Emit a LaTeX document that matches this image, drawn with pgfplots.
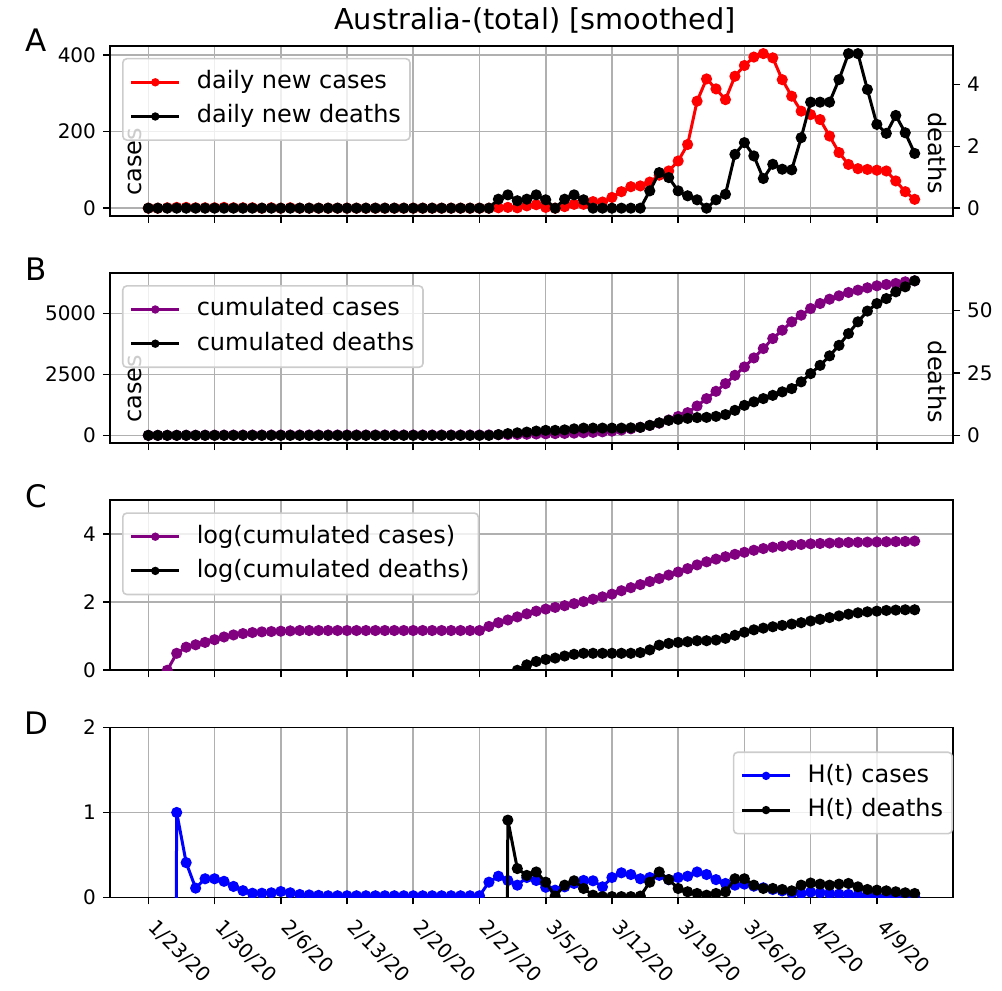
\documentclass[border=0pt]{standalone}
\usepackage{fontspec}
\setmainfont{DejaVu Sans}
\usepackage{pgfplots}
\usepackage{pgfplotstable}
\pgfplotsset{compat=1.18}

\definecolor{mplgrid}{RGB}{176,176,176}
\definecolor{mplpurple}{RGB}{128,0,128}
\definecolor{legframe}{RGB}{204,204,204}

% day index d: 0 = 1/23/20
% nc/nd daily new cases/deaths, cc/cd cumulated, lc/ld log10 of cumulated, hc/hd H(t)
\pgfplotstableread{
d  nc  nd   cc   cd   lc    ld   hc    hd
0  0   0    0    0    nan   nan  nan   nan
1  0   0    0    0    nan   nan  nan   nan
2  1   0    1    0    0.00  nan  -20   nan
3  2   0    3    0    0.50  nan  1.00  nan
4  2   0    5    0    0.68  nan  0.41  nan
5  1   0    6    0    0.75  nan  0.11  nan
6  1   0    7    0    0.82  nan  0.22  nan
7  1   0    8    0    0.90  nan  0.22  nan
8  2   0    10   0    0.98  nan  0.19  nan
9  1   0    11   0    1.04  nan  0.13  nan
10 1   0    12   0    1.08  nan  0.08  nan
11 1   0    13   0    1.11  nan  0.05  nan
12 0   0    13   0    1.13  nan  0.05  nan
13 1   0    14   0    1.14  nan  0.055 nan
14 0   0    14   0    1.15  nan  0.07  nan
15 1   0    15   0    1.16  nan  0.055 nan
16 0   0    15   0    1.17  nan  0.035 nan
17 0   0    15   0    1.17  nan  0.03  nan
18 0   0    15   0    1.17  nan  0.025 nan
19 0   0    15   0    1.17  nan  0.02  nan
20 0   0    15   0    1.17  nan  0.02  nan
21 0   0    15   0    1.17  nan  0.02  nan
22 0   0    15   0    1.17  nan  0.02  nan
23 0   0    15   0    1.17  nan  0.02  nan
24 0   0    15   0    1.17  nan  0.02  nan
25 0   0    15   0    1.17  nan  0.02  nan
26 0   0    15   0    1.17  nan  0.02  nan
27 0   0    15   0    1.17  nan  0.02  nan
28 0   0    15   0    1.17  nan  0.02  nan
29 0   0    15   0    1.17  nan  0.02  nan
30 0   0    15   0    1.17  nan  0.02  nan
31 0   0    15   0    1.17  nan  0.02  nan
32 0   0    15   0    1.17  nan  0.02  nan
33 0   0    15   0    1.17  nan  0.02  nan
34 0   0    15   0    1.17  nan  0.02  nan
35 0   0    15   0    1.17  nan  0.02  nan
36 0   0    19   0    1.29  nan  0.18  nan
37 1   0.29 25   0.3  1.40  nan  0.25  -20
38 2   0.43 30   0.7  1.48  nan  0.20  0.91
39 1   0.24 37   1.0  1.57  0.00 0.145 0.34
40 6   0.29 46   1.3  1.66  0.16 0.235 0.26
41 9   0.43 55   1.7  1.74  0.26 0.20  0.30
42 2   0.27 63   2.0  1.80  0.32 0.12  0.18
43 0   0    71   2.0  1.85  0.36 0.086 0.016
44 4   0.29 79   2.2  1.90  0.42 0.125 0.145
45 10  0.43 91   2.6  1.96  0.47 0.165 0.196
46 10  0.27 105  2.9  2.02  0.50 0.20  0.106
47 17  0    123  2.9  2.09  0.50 0.196 0.027
48 16  0    145  2.9  2.16  0.50 0.125 0.01
49 28  0    174  2.9  2.24  0.50 0.235 0.01
50 43  0    219  2.9  2.34  0.50 0.29  0.01
51 56  0    269  3.0  2.43  0.50 0.27  0.01
52 58  0    331  3.2  2.52  0.52 0.22  0.016
53 68  0.56 407  4.0  2.61  0.60 0.235 0.18
54 86  1.15 501  5.0  2.70  0.74 0.26  0.30
55 97  0.99 631  6.0  2.80  0.79 0.21  0.21
56 123 0.56 776  6.4  2.89  0.82 0.235 0.106
57 166 0.40 932  6.8  2.99  0.84 0.25  0.067
58 279 0.27 1205 7.1  3.10  0.87 0.30  0.047
59 337 0    1507 7.2  3.19  0.87 0.27  0.027
60 311 0.27 1808 7.6  3.27  0.89 0.21  0.047
61 283 0.45 2123 8.3  3.34  0.94 0.165 0.067
62 344 1.74 2466 10.0 3.41  1.03 0.145 0.22
63 372 2.12 2808 12.0 3.47  1.12 0.157 0.22
64 394 1.69 3178 13.4 3.53  1.19 0.133 0.145
65 403 0.96 3562 14.7 3.58  1.24 0.114 0.106
66 392 1.42 3973 16.0 3.62  1.28 0.094 0.106
67 335 1.26 4315 17.4 3.65  1.32 0.078 0.094
68 292 1.24 4658 18.7 3.68  1.36 0.055 0.078
69 253 2.28 4932 21.4 3.70  1.40 0.047 0.145
70 244 3.43 5205 24.7 3.72  1.45 0.063 0.17
71 231 3.43 5411 28.0 3.73  1.50 0.055 0.157
72 188 3.43 5589 31.8 3.74  1.55 0.047 0.145
73 145 4.16 5726 36.0 3.75  1.60 0.04  0.157
74 114 5.00 5863 40.7 3.76  1.65 0.035 0.165
75 103 5.00 5959 45.4 3.765 1.69 0.027 0.125
76 101 3.84 6055 49.7 3.77  1.72 0.024 0.094
77 99  2.71 6137 52.7 3.775 1.74 0.016 0.086
78 97  2.42 6192 54.7 3.78  1.76 0.012 0.078
79 71  3.00 6233 57.4 3.785 1.77 0.01  0.067
80 43  2.44 6301 59.4 3.79  1.78 0.008 0.055
81 23  1.77 6342 61.8 3.80  1.78 0.006 0.047
}\covid

\pgfplotsset{
  common/.style={
    scale only axis, width=421.5pt, height=85pt,
    xmin=-4.05, xmax=85.05,
    tick align=outside, major tick length=3.5pt,
    every tick/.style={black, line width=0.8pt},
    axis line style={line width=0.8pt},
    ticklabel style={font=\fontsize{10}{12}\selectfont},
    /pgf/number format/assume math mode=true,
    /pgf/number format/1000 sep={},
    scaled y ticks=false,
    unbounded coords=jump,
    clip marker paths=true,
    every axis plot/.append style={line width=1.5pt, mark=*, mark size=2pt},
  },
  panel/.style={
    common,
    xtick={0,7,...,77}, xticklabels={},
    tick pos=left,
    grid=major, major grid style={mplgrid, line width=0.8pt},
    every axis y label/.style={at={(rel axis cs:0.03,0.318)}, rotate=90,
      anchor=center, font=\fontsize{12}{14}\selectfont},
    legend cell align=left,
    legend style={at={(0,1)}, anchor=north west, xshift=6pt, yshift=-6pt,
      font=\fontsize{12}{14}\selectfont,
      draw=legframe, line width=0.8pt, rounded corners=2pt,
      fill=white, fill opacity=0.8, text opacity=1,
      inner xsep=3.5pt, inner ysep=5pt, row sep=3.5pt,
      nodes={inner sep=1pt, text height=9pt, text depth=2.6pt},
      /tikz/every odd column/.append style={column sep=7pt}},
    legend image code/.code={
      \draw[mark repeat=2, mark phase=2, mark size=1.3pt]
        plot coordinates {(0pt,0pt) (12pt,0pt) (24pt,0pt)};},
  },
  twin/.style={
    common,
    axis x line=none, axis y line*=right,
    every axis y label/.style={at={(rel axis cs:0.981,0.37)}, rotate=-90,
      anchor=center, font=\fontsize{12}{14}\selectfont},
  },
}

\begin{document}
\begin{tikzpicture}
\useasboundingbox (0,0) rectangle (501pt,495.5pt);

% ---- A: daily new cases / deaths ----
\begin{axis}[panel, at={(55pt,387.55pt)}, anchor=south west,
    ymin=-20.15, ymax=423.15, ytick={0,200,400}, ylabel={cases}]
  \addplot[red] table[x=d, y=nc] {\covid};
  \addlegendentry{daily new cases}
  \addlegendimage{black, line width=1.5pt, mark=*}
  \addlegendentry{daily new deaths}
\end{axis}
\begin{axis}[twin, at={(55pt,387.55pt)}, anchor=south west,
    ymin=-0.25, ymax=5.25, ytick={0,2,4}, ylabel={deaths}]
  \addplot[black] table[x=d, y=nd] {\covid};
\end{axis}

% ---- B: cumulated ----
\begin{axis}[panel, at={(55pt,273.95pt)}, anchor=south west,
    ymin=-317.1, ymax=6659.1, ytick={0,2500,5000}, ylabel={cases}]
  \addplot[mplpurple] table[x=d, y=cc] {\covid};
  \addlegendentry{cumulated cases}
  \addlegendimage{black, line width=1.5pt, mark=*}
  \addlegendentry{cumulated deaths}
\end{axis}
\begin{axis}[twin, at={(55pt,273.95pt)}, anchor=south west,
    ymin=-3.09, ymax=64.89, ytick={0,25,50}, ylabel={deaths},
    every axis y label/.append style={at={(rel axis cs:0.981,0.36)}}]
  \addplot[black] table[x=d, y=cd] {\covid};
\end{axis}

% ---- C: log cumulated ----
\begin{axis}[panel, at={(55pt,160.35pt)}, anchor=south west,
    ymin=0, ymax=5, ytick={0,2,4}]
  \addplot[mplpurple] table[x=d, y=lc] {\covid};
  \addlegendentry{log(cumulated cases)}
  \addplot[black] table[x=d, y=ld] {\covid};
  \addlegendentry{log(cumulated deaths)}
\end{axis}

% ---- D: H(t) ----
\begin{axis}[panel, at={(55pt,46.75pt)}, anchor=south west,
    ymin=0, ymax=2, ytick={0,1,2},
    xticklabels={1/23/20,1/30/20,2/6/20,2/13/20,2/20/20,2/27/20,3/5/20,3/12/20,3/19/20,3/26/20,4/2/20,4/9/20},
    xticklabel style={xshift=5pt, yshift=-2pt, rotate=-45, anchor=north west,
      font=\fontsize{10}{12}\selectfont},
    legend style={at={(1,1)}, anchor=north east, xshift=-6pt, yshift=-6pt}]
  \addplot[blue] table[x=d, y=hc] {\covid};
  \addlegendentry{H(t) cases}
  \addplot[black] table[x=d, y=hd] {\covid};
  \addlegendentry{H(t) deaths}
\end{axis}

\node[font=\fontsize{14.4}{17}\selectfont] at (267.5pt,485.5pt) {Australia-(total) [smoothed]};
\node[font=\fontsize{15.5}{18}\selectfont] at (18.2pt,475.5pt) {A};
\node[font=\fontsize{15.5}{18}\selectfont] at (18pt,361pt) {B};
\node[font=\fontsize{15.5}{18}\selectfont] at (18pt,247.5pt) {C};
\node[font=\fontsize{15.5}{18}\selectfont] at (18pt,133.7pt) {D};
\end{tikzpicture}
\end{document}
